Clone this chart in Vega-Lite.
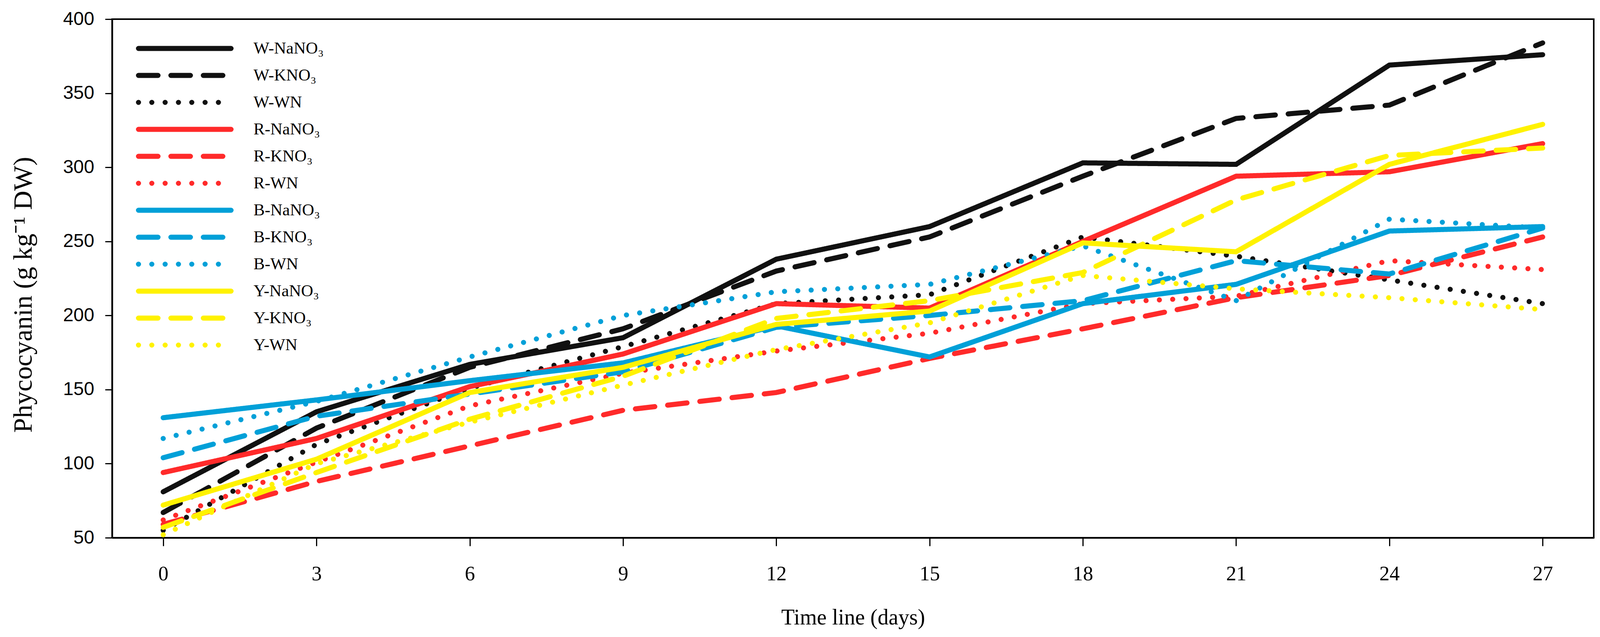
{
  "$schema": "https://vega.github.io/schema/vega-lite/v6.json",
  "width": 4096,
  "height": 1630,
  "autosize": {"type": "fit", "contains": "padding"},
  "padding": {"left": 26, "top": 25, "right": 16, "bottom": 22},
  "background": "white",
  "config": {"view": {"stroke": "#000000", "strokeWidth": 4}, "axis": {"grid": false}},
  "data": {"values": [
    {"s": "W-NaNO₃", "d": 0, "v": 81}, {"s": "W-NaNO₃", "d": 3, "v": 135}, {"s": "W-NaNO₃", "d": 6, "v": 167}, {"s": "W-NaNO₃", "d": 9, "v": 185}, {"s": "W-NaNO₃", "d": 12, "v": 238}, {"s": "W-NaNO₃", "d": 15, "v": 260}, {"s": "W-NaNO₃", "d": 18, "v": 303}, {"s": "W-NaNO₃", "d": 21, "v": 302}, {"s": "W-NaNO₃", "d": 24, "v": 369}, {"s": "W-NaNO₃", "d": 27, "v": 376},
    {"s": "W-KNO₃", "d": 0, "v": 67}, {"s": "W-KNO₃", "d": 3, "v": 124}, {"s": "W-KNO₃", "d": 6, "v": 165}, {"s": "W-KNO₃", "d": 9, "v": 191}, {"s": "W-KNO₃", "d": 12, "v": 230}, {"s": "W-KNO₃", "d": 15, "v": 253}, {"s": "W-KNO₃", "d": 18, "v": 294}, {"s": "W-KNO₃", "d": 21, "v": 333}, {"s": "W-KNO₃", "d": 24, "v": 342}, {"s": "W-KNO₃", "d": 27, "v": 384},
    {"s": "W-WN", "d": 0, "v": 55}, {"s": "W-WN", "d": 3, "v": 113}, {"s": "W-WN", "d": 6, "v": 151}, {"s": "W-WN", "d": 9, "v": 179}, {"s": "W-WN", "d": 12, "v": 208}, {"s": "W-WN", "d": 15, "v": 214}, {"s": "W-WN", "d": 18, "v": 253}, {"s": "W-WN", "d": 21, "v": 240}, {"s": "W-WN", "d": 24, "v": 224}, {"s": "W-WN", "d": 27, "v": 208},
    {"s": "R-NaNO₃", "d": 0, "v": 94}, {"s": "R-NaNO₃", "d": 3, "v": 117}, {"s": "R-NaNO₃", "d": 6, "v": 152}, {"s": "R-NaNO₃", "d": 9, "v": 174}, {"s": "R-NaNO₃", "d": 12, "v": 208}, {"s": "R-NaNO₃", "d": 15, "v": 205}, {"s": "R-NaNO₃", "d": 18, "v": 250}, {"s": "R-NaNO₃", "d": 21, "v": 294}, {"s": "R-NaNO₃", "d": 24, "v": 297}, {"s": "R-NaNO₃", "d": 27, "v": 316},
    {"s": "R-KNO₃", "d": 0, "v": 59}, {"s": "R-KNO₃", "d": 3, "v": 88}, {"s": "R-KNO₃", "d": 6, "v": 112}, {"s": "R-KNO₃", "d": 9, "v": 136}, {"s": "R-KNO₃", "d": 12, "v": 148}, {"s": "R-KNO₃", "d": 15, "v": 171}, {"s": "R-KNO₃", "d": 18, "v": 191}, {"s": "R-KNO₃", "d": 21, "v": 212}, {"s": "R-KNO₃", "d": 24, "v": 227}, {"s": "R-KNO₃", "d": 27, "v": 253},
    {"s": "R-WN", "d": 0, "v": 62}, {"s": "R-WN", "d": 3, "v": 101}, {"s": "R-WN", "d": 6, "v": 139}, {"s": "R-WN", "d": 9, "v": 161}, {"s": "R-WN", "d": 12, "v": 176}, {"s": "R-WN", "d": 15, "v": 188}, {"s": "R-WN", "d": 18, "v": 208}, {"s": "R-WN", "d": 21, "v": 213}, {"s": "R-WN", "d": 24, "v": 237}, {"s": "R-WN", "d": 27, "v": 231},
    {"s": "B-NaNO₃", "d": 0, "v": 131}, {"s": "B-NaNO₃", "d": 3, "v": 143}, {"s": "B-NaNO₃", "d": 6, "v": 156}, {"s": "B-NaNO₃", "d": 9, "v": 168}, {"s": "B-NaNO₃", "d": 12, "v": 193}, {"s": "B-NaNO₃", "d": 15, "v": 172}, {"s": "B-NaNO₃", "d": 18, "v": 208}, {"s": "B-NaNO₃", "d": 21, "v": 221}, {"s": "B-NaNO₃", "d": 24, "v": 257}, {"s": "B-NaNO₃", "d": 27, "v": 260},
    {"s": "B-KNO₃", "d": 0, "v": 104}, {"s": "B-KNO₃", "d": 3, "v": 132}, {"s": "B-KNO₃", "d": 6, "v": 147}, {"s": "B-KNO₃", "d": 9, "v": 162}, {"s": "B-KNO₃", "d": 12, "v": 192}, {"s": "B-KNO₃", "d": 15, "v": 200}, {"s": "B-KNO₃", "d": 18, "v": 210}, {"s": "B-KNO₃", "d": 21, "v": 237}, {"s": "B-KNO₃", "d": 24, "v": 228}, {"s": "B-KNO₃", "d": 27, "v": 259},
    {"s": "B-WN", "d": 0, "v": 117}, {"s": "B-WN", "d": 3, "v": 142}, {"s": "B-WN", "d": 6, "v": 172}, {"s": "B-WN", "d": 9, "v": 200}, {"s": "B-WN", "d": 12, "v": 216}, {"s": "B-WN", "d": 15, "v": 221}, {"s": "B-WN", "d": 18, "v": 247}, {"s": "B-WN", "d": 21, "v": 210}, {"s": "B-WN", "d": 24, "v": 265}, {"s": "B-WN", "d": 27, "v": 259},
    {"s": "Y-NaNO₃", "d": 0, "v": 72}, {"s": "Y-NaNO₃", "d": 3, "v": 103}, {"s": "Y-NaNO₃", "d": 6, "v": 148}, {"s": "Y-NaNO₃", "d": 9, "v": 165}, {"s": "Y-NaNO₃", "d": 12, "v": 194}, {"s": "Y-NaNO₃", "d": 15, "v": 203}, {"s": "Y-NaNO₃", "d": 18, "v": 249}, {"s": "Y-NaNO₃", "d": 21, "v": 243}, {"s": "Y-NaNO₃", "d": 24, "v": 302}, {"s": "Y-NaNO₃", "d": 27, "v": 329},
    {"s": "Y-KNO₃", "d": 0, "v": 57}, {"s": "Y-KNO₃", "d": 3, "v": 94}, {"s": "Y-KNO₃", "d": 6, "v": 130}, {"s": "Y-KNO₃", "d": 9, "v": 159}, {"s": "Y-KNO₃", "d": 12, "v": 198}, {"s": "Y-KNO₃", "d": 15, "v": 210}, {"s": "Y-KNO₃", "d": 18, "v": 229}, {"s": "Y-KNO₃", "d": 21, "v": 278}, {"s": "Y-KNO₃", "d": 24, "v": 308}, {"s": "Y-KNO₃", "d": 27, "v": 313},
    {"s": "Y-WN", "d": 0, "v": 52}, {"s": "Y-WN", "d": 3, "v": 100}, {"s": "Y-WN", "d": 6, "v": 128}, {"s": "Y-WN", "d": 9, "v": 153}, {"s": "Y-WN", "d": 12, "v": 177}, {"s": "Y-WN", "d": 15, "v": 195}, {"s": "Y-WN", "d": 18, "v": 227}, {"s": "Y-WN", "d": 21, "v": 218}, {"s": "Y-WN", "d": 24, "v": 212}, {"s": "Y-WN", "d": 27, "v": 204}
  ]},
  "mark": {"type": "line", "strokeCap": "round", "strokeJoin": "miter"},
  "encoding": {
    "x": {
      "field": "d", "type": "quantitative",
      "scale": {"domain": [-1, 28], "nice": false, "zero": false},
      "axis": {
        "values": [0, 3, 6, 9, 12, 15, 18, 21, 24, 27],
        "title": "Time line (days)",
        "labelFont": "Liberation Serif", "labelFontSize": 52, "labelColor": "#000000",
        "tickSize": 21, "tickWidth": 3, "tickColor": "#000000",
        "domainColor": "#000000", "domainWidth": 4,
        "labelPadding": 46, "labelFlush": false,
        "titleFont": "Liberation Serif", "titleFontSize": 56, "titleFontWeight": "normal", "titleColor": "#000000",
        "titleY": 221, "titleBaseline": "alphabetic"
      }
    },
    "y": {
      "field": "v", "type": "quantitative",
      "scale": {"domain": [50, 400], "nice": false, "zero": false},
      "axis": {
        "values": [50, 100, 150, 200, 250, 300, 350, 400],
        "title": "Phycocyanin (g kg⁻¹ DW)",
        "labelFont": "Liberation Sans", "labelFontSize": 48, "labelColor": "#000000",
        "tickSize": 18, "tickWidth": 3, "tickColor": "#000000",
        "domainColor": "#000000", "domainWidth": 4,
        "labelPadding": 28, "labelFlush": false,
        "titleFont": "Liberation Serif", "titleFontSize": 68, "titleFontWeight": "normal", "titleColor": "#000000",
        "titleX": -207, "titleY": 705, "titleAngle": -90, "titleBaseline": "alphabetic", "titleAlign": "center"
      }
    },
    "color": {
      "field": "s", "type": "nominal",
      "scale": {
        "domain": ["W-NaNO₃", "W-KNO₃", "W-WN", "R-NaNO₃", "R-KNO₃", "R-WN", "B-NaNO₃", "B-KNO₃", "B-WN", "Y-NaNO₃", "Y-KNO₃", "Y-WN"],
        "range": ["#111111", "#111111", "#111111", "#ff2a2a", "#ff2a2a", "#ff2a2a", "#00a0d8", "#00a0d8", "#00a0d8", "#fff200", "#fff200", "#fff200"]
      },
      "legend": {
        "orient": "none", "legendX": 61, "legendY": 46, "title": null,
        "symbolType": "stroke", "symbolSize": 56169,
        "clipHeight": 58, "rowPadding": 11, "padding": 0,
        "labelFont": "Liberation Serif", "labelFontSize": 43, "labelColor": "#000000",
        "labelOffset": 51, "labelLimit": 0,
        "encode": {"symbols": {"update": {"strokeCap": {"value": "round"}}}}
      }
    },
    "strokeDash": {
      "field": "s", "type": "nominal",
      "scale": {
        "domain": ["W-NaNO₃", "W-KNO₃", "W-WN", "R-NaNO₃", "R-KNO₃", "R-WN", "B-NaNO₃", "B-KNO₃", "B-WN", "Y-NaNO₃", "Y-KNO₃", "Y-WN"],
        "range": [[1, 0], [50, 33], [0.1, 34], [1, 0], [50, 33], [0.1, 34], [1, 0], [50, 33], [0.1, 34], [1, 0], [50, 33], [0.1, 34]]
      }
    },
    "strokeWidth": {
      "field": "s", "type": "nominal",
      "scale": {
        "domain": ["W-NaNO₃", "W-KNO₃", "W-WN", "R-NaNO₃", "R-KNO₃", "R-WN", "B-NaNO₃", "B-KNO₃", "B-WN", "Y-NaNO₃", "Y-KNO₃", "Y-WN"],
        "range": [13, 13, 22, 13, 13, 22, 13, 13, 22, 13, 13, 22]
      }
    }
  }
}
